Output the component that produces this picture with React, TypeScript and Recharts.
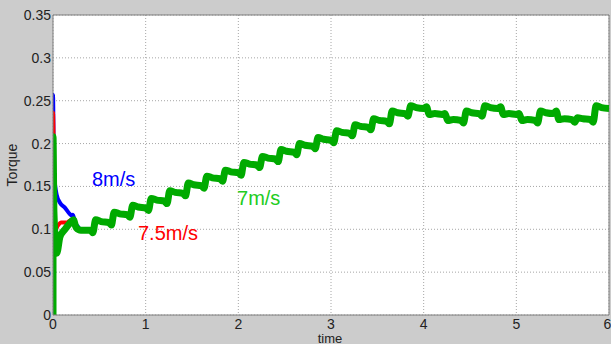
import { LineChart, Line, XAxis, YAxis, CartesianGrid, ReferenceLine, ReferenceDot } from 'recharts'

// start-up transients (each wind speed differs only in the first 0.3 s)
const blueTime = [0, 0, 0.01, 0.04, 0.075, 0.13, 0.18, 0.2, 0.215, 0.24, 0.27]
const blueTorque = [0, 0.257, 0.168, 0.14, 0.131, 0.125, 0.118, 0.116, 0.117, 0.107, 0.103]

const redTime = [0, 0, 0.02, 0.05, 0.09, 0.15, 0.2, 0.23, 0.27]
const redTorque = [0, 0.236, 0.098, 0.104, 0.108, 0.108, 0.111, 0.104, 0.101]

const greenTime = [0, 0, 0.01, 0.04, 0.075, 0.13, 0.18, 0.22, 0.25]
const greenTorque = [0, 0.208, 0.12, 0.072, 0.091, 0.1, 0.107, 0.111, 0.102]

// shared stepped response after ~0.3 s
const tailTime = [
  0.3,
  0.4, 0.43, 0.46, 0.52, 0.6, 0.63, 0.66, 0.72, 0.8, 0.83, 0.86, 0.92,
  1.0, 1.03, 1.06, 1.12, 1.2, 1.23, 1.26, 1.32, 1.4, 1.43, 1.46, 1.52,
  1.6, 1.63, 1.66, 1.72, 1.8, 1.83, 1.86, 1.92,
  2.0, 2.03, 2.06, 2.12, 2.2, 2.23, 2.26, 2.32, 2.4, 2.43, 2.46, 2.52,
  2.6, 2.63, 2.66, 2.72, 2.8, 2.83, 2.86, 2.92,
  3.0, 3.03, 3.06, 3.12, 3.2, 3.23, 3.26, 3.32, 3.4, 3.43, 3.46, 3.52,
  3.6, 3.63, 3.66, 3.72, 3.8, 3.83, 3.86, 3.92,
  4.0, 4.03, 4.06, 4.12, 4.2, 4.23, 4.26, 4.32, 4.4, 4.43, 4.46, 4.52,
  4.6, 4.63, 4.66, 4.72, 4.8, 4.83, 4.86, 4.92,
  5.0, 5.03, 5.06, 5.12, 5.2, 5.23, 5.26, 5.32, 5.4, 5.43, 5.46, 5.52,
  5.6, 5.63, 5.66, 5.72, 5.8, 5.83, 5.86, 5.92,
  6.0,
]
const tailTorque = [
  0.099,
  0.099, 0.096, 0.111, 0.109, 0.108, 0.105, 0.12, 0.118, 0.117, 0.114, 0.128, 0.126,
  0.125, 0.122, 0.136, 0.134, 0.133, 0.13, 0.145, 0.143, 0.142, 0.139, 0.154, 0.152,
  0.151, 0.148, 0.162, 0.16, 0.159, 0.156, 0.169, 0.167,
  0.166, 0.163, 0.178, 0.176, 0.175, 0.172, 0.185, 0.183, 0.182, 0.179, 0.193, 0.191,
  0.19, 0.187, 0.2, 0.198, 0.197, 0.194, 0.207, 0.205,
  0.204, 0.201, 0.215, 0.213, 0.212, 0.209, 0.222, 0.22, 0.219, 0.216, 0.229, 0.227,
  0.226, 0.223, 0.238, 0.236, 0.235, 0.232, 0.244, 0.242,
  0.241, 0.243, 0.234, 0.235, 0.234, 0.235, 0.227, 0.228, 0.227, 0.224, 0.238, 0.236,
  0.235, 0.232, 0.244, 0.242, 0.241, 0.243, 0.234, 0.235,
  0.234, 0.235, 0.227, 0.228, 0.227, 0.224, 0.238, 0.236, 0.235, 0.238, 0.228, 0.229,
  0.228, 0.225, 0.23, 0.229, 0.228, 0.225, 0.244, 0.242,
  0.241,
]

const xTicks = [0, 1, 2, 3, 4, 5, 6]
const yTicks = [0, 0.05, 0.1, 0.15, 0.2, 0.25, 0.3, 0.35]

const toPoints = (ts: number[], vs: number[]) => ts.map((t, i) => ({ time: t, torque: vs[i] }))

const blueData = [...toPoints(blueTime, blueTorque), ...toPoints(tailTime, tailTorque)]
const redData = [...toPoints(redTime, redTorque), ...toPoints(tailTime, tailTorque)]
const greenData = [...toPoints(greenTime, greenTorque), ...toPoints(tailTime, tailTorque)]

const font = '"Liberation Sans", Arial, sans-serif'
const frame = '#7f7f7f'

const note = (text: string, color: string) => (p: any) => (
  <text x={p.cx} y={p.cy} fill={color} fontSize={20} fontFamily={font}>
    {text}
  </text>
)

const TimeLabel = () => (
  <text x={330} y={343} textAnchor="middle" fill="#222" fontSize={13} fontFamily={font}>
    time
  </text>
)

const TorqueLabel = () => (
  <text x={17} y={165} transform="rotate(-90 17 165)" textAnchor="middle" fill="#222" fontSize={14} fontFamily={font}>
    Torque
  </text>
)

export default function App() {
  return (
    <div style={{ position: 'absolute', left: 0, top: 0, width: 611, height: 344, background: '#cccccc' }}>
      <LineChart width={611} height={344} margin={{ top: 15, right: 2, bottom: 0, left: 8 }}>
        <CartesianGrid fill="#ffffff" stroke="#a6a6a6" strokeDasharray="1 2" />
        <XAxis
          dataKey="time"
          type="number"
          domain={[0, 6]}
          ticks={xTicks}
          allowDataOverflow
          height={29}
          tickLine={false}
          tickSize={0}
          tickMargin={4}
          axisLine={{ stroke: frame }}
          tick={{ fill: '#222', fontSize: 14, fontFamily: font }}
          label={<TimeLabel />}
        />
        <YAxis
          type="number"
          domain={[0, 0.35]}
          ticks={yTicks}
          allowDataOverflow
          width={45}
          tickLine={false}
          tickSize={0}
          tickMargin={2}
          axisLine={{ stroke: frame }}
          tick={{ fill: '#222', fontSize: 14, fontFamily: font }}
          label={<TorqueLabel />}
        />
        <ReferenceLine y={0.35} stroke={frame} />
        <ReferenceLine x={6} stroke={frame} />
        <Line data={blueData} dataKey="torque" type="monotone" stroke="#0000ff" strokeWidth={4} dot={false} isAnimationActive={false} />
        <Line data={redData} dataKey="torque" type="monotone" stroke="#ff0000" strokeWidth={4} dot={false} isAnimationActive={false} />
        <Line data={greenData} dataKey="torque" type="monotone" stroke="#00aa00" strokeWidth={7} dot={false} isAnimationActive={false} />
        <ReferenceDot x={0.42} y={0.1505} r={0} shape={note('8m/s', '#0000ff')} />
        <ReferenceDot x={0.917} y={0.0875} r={0} shape={note('7.5m/s', '#ff0000')} />
        <ReferenceDot x={1.986} y={0.128} r={0} shape={note('7m/s', '#22cc22')} />
      </LineChart>
    </div>
  )
}
